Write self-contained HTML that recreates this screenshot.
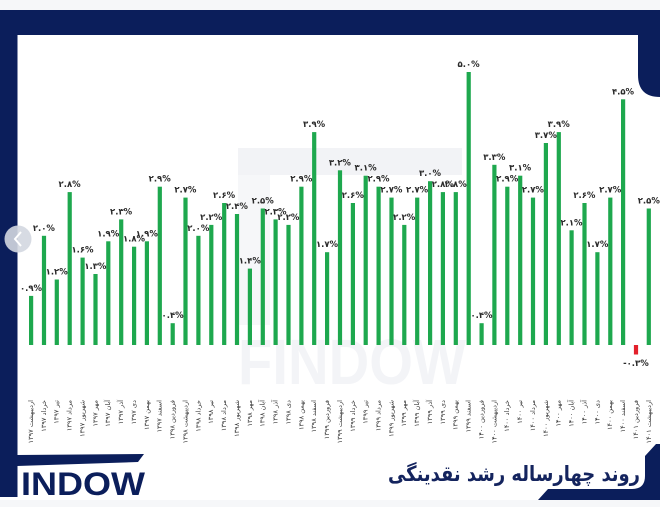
<!DOCTYPE html>
<html><head><meta charset="utf-8">
<style>
html,body{margin:0;padding:0;background:#fff;}
svg{display:block;}
.v{font-family:"DejaVu Sans","Liberation Sans",sans-serif;font-weight:bold;font-size:8.5px;fill:#2a2a2a;text-anchor:middle;}
.m{font-family:"DejaVu Sans","Liberation Sans",sans-serif;font-size:6.6px;fill:#3a3a3a;text-anchor:end;}
</style></head>
<body>
<svg width="660" height="507" viewBox="0 0 660 507" xmlns="http://www.w3.org/2000/svg">
<rect x="0" y="0" width="660" height="507" fill="#ffffff"/>
<rect x="0" y="0" width="660" height="10" fill="#f6f7f9"/>
<rect x="0" y="500" width="660" height="7" fill="#f6f7f9"/>

<!-- watermark -->
<rect x="238" y="148" width="224" height="27" fill="#f2f3f6"/>
<rect x="238" y="175" width="32" height="150" fill="#f6f7f9"/>
<text x="238" y="384" font-family="Liberation Sans, sans-serif" font-weight="bold" font-size="64" fill="#f3f4f7" textLength="228" lengthAdjust="spacingAndGlyphs">FINDOW</text>

<!-- navy frame -->
<rect x="0" y="10" width="660" height="25" fill="#0b1e5b"/>
<path d="M638,35 L660,35 L660,97 Q638,97 638,75 Z" fill="#0b1e5b"/>
<rect x="0" y="10" width="17.5" height="487" fill="#0b1e5b"/>
<polygon points="17,455 144,454 138,462 17,466" fill="#0b1e5b"/>
<text x="21" y="495" font-family="Liberation Sans, sans-serif" font-weight="bold" font-size="32" fill="#0b1e5b" textLength="124" lengthAdjust="spacingAndGlyphs">INDOW</text>
<path d="M656,444 L660,444 L660,500 L538,500 L548,489 L632,489 Q645,489 645,476 L645,456 Z" fill="#0b1e5b"/>
<text x="388" y="481" font-family="DejaVu Sans, sans-serif" font-weight="bold" font-size="21" fill="#14245e" textLength="252" lengthAdjust="spacingAndGlyphs">روند چهارساله رشد نقدینگی</text>

<!-- nav circle -->
<circle cx="18" cy="239" r="13.5" fill="#d3d7e0" fill-opacity="0.9"/>
<polyline points="21,232 15,239 21,246" fill="none" stroke="#ffffff" stroke-width="2"/>

<!-- bars -->
<g fill="#1ea84e">
<rect x="29.0" y="295.9" width="4.2" height="49.1"/>
<rect x="41.9" y="235.8" width="4.2" height="109.2"/>
<rect x="54.7" y="279.5" width="4.2" height="65.5"/>
<rect x="67.6" y="192.1" width="4.2" height="152.9"/>
<rect x="80.5" y="257.6" width="4.2" height="87.4"/>
<rect x="93.4" y="274.0" width="4.2" height="71.0"/>
<rect x="106.2" y="241.3" width="4.2" height="103.7"/>
<rect x="119.1" y="219.4" width="4.2" height="125.6"/>
<rect x="132.0" y="246.7" width="4.2" height="98.3"/>
<rect x="144.8" y="241.3" width="4.2" height="103.7"/>
<rect x="157.7" y="186.7" width="4.2" height="158.3"/>
<rect x="170.6" y="323.2" width="4.2" height="21.8"/>
<rect x="183.4" y="197.6" width="4.2" height="147.4"/>
<rect x="196.3" y="235.8" width="4.2" height="109.2"/>
<rect x="209.2" y="224.9" width="4.2" height="120.1"/>
<rect x="222.1" y="203.0" width="4.2" height="142.0"/>
<rect x="234.9" y="214.0" width="4.2" height="131.0"/>
<rect x="247.8" y="268.6" width="4.2" height="76.4"/>
<rect x="260.7" y="208.5" width="4.2" height="136.5"/>
<rect x="273.5" y="219.4" width="4.2" height="125.6"/>
<rect x="286.4" y="224.9" width="4.2" height="120.1"/>
<rect x="299.3" y="186.7" width="4.2" height="158.3"/>
<rect x="312.1" y="132.1" width="4.2" height="212.9"/>
<rect x="325.0" y="252.2" width="4.2" height="92.8"/>
<rect x="337.9" y="170.3" width="4.2" height="174.7"/>
<rect x="350.8" y="203.0" width="4.2" height="142.0"/>
<rect x="363.6" y="175.7" width="4.2" height="169.3"/>
<rect x="376.5" y="186.7" width="4.2" height="158.3"/>
<rect x="389.4" y="197.6" width="4.2" height="147.4"/>
<rect x="402.2" y="224.9" width="4.2" height="120.1"/>
<rect x="415.1" y="197.6" width="4.2" height="147.4"/>
<rect x="428.0" y="181.2" width="4.2" height="163.8"/>
<rect x="440.8" y="192.1" width="4.2" height="152.9"/>
<rect x="453.7" y="192.1" width="4.2" height="152.9"/>
<rect x="466.6" y="72.0" width="4.2" height="273.0"/>
<rect x="479.5" y="323.2" width="4.2" height="21.8"/>
<rect x="492.3" y="164.8" width="4.2" height="180.2"/>
<rect x="505.2" y="186.7" width="4.2" height="158.3"/>
<rect x="518.1" y="175.7" width="4.2" height="169.3"/>
<rect x="530.9" y="197.6" width="4.2" height="147.4"/>
<rect x="543.8" y="143.0" width="4.2" height="202.0"/>
<rect x="556.7" y="132.1" width="4.2" height="212.9"/>
<rect x="569.5" y="230.3" width="4.2" height="114.7"/>
<rect x="582.4" y="203.0" width="4.2" height="142.0"/>
<rect x="595.3" y="252.2" width="4.2" height="92.8"/>
<rect x="608.2" y="197.6" width="4.2" height="147.4"/>
<rect x="621.0" y="99.3" width="4.2" height="245.7"/>
<rect x="646.7" y="208.5" width="4.2" height="136.5"/>
</g>
<rect x="633.9" y="345" width="4.2" height="9.5" fill="#e3202b"/>

<!-- value labels -->
<text class="v" x="31.0" y="290.9">۰.۹%</text>
<text class="v" x="43.9" y="230.8">۲.۰%</text>
<text class="v" x="56.7" y="274.5">۱.۲%</text>
<text class="v" x="69.6" y="187.1">۲.۸%</text>
<text class="v" x="82.5" y="252.6">۱.۶%</text>
<text class="v" x="95.4" y="269.0">۱.۳%</text>
<text class="v" x="108.2" y="236.3">۱.۹%</text>
<text class="v" x="121.1" y="214.4">۲.۳%</text>
<text class="v" x="134.0" y="241.7">۱.۸%</text>
<text class="v" x="146.8" y="236.3">۱.۹%</text>
<text class="v" x="159.7" y="181.7">۲.۹%</text>
<text class="v" x="172.6" y="318.2">۰.۴%</text>
<text class="v" x="185.4" y="192.6">۲.۷%</text>
<text class="v" x="198.3" y="230.8">۲.۰%</text>
<text class="v" x="211.2" y="219.9">۲.۲%</text>
<text class="v" x="224.1" y="198.0">۲.۶%</text>
<text class="v" x="236.9" y="209.0">۲.۴%</text>
<text class="v" x="249.8" y="263.6">۱.۴%</text>
<text class="v" x="262.7" y="203.5">۲.۵%</text>
<text class="v" x="275.5" y="214.4">۲.۳%</text>
<text class="v" x="288.4" y="219.9">۲.۲%</text>
<text class="v" x="301.3" y="181.7">۲.۹%</text>
<text class="v" x="314.1" y="127.1">۳.۹%</text>
<text class="v" x="327.0" y="247.2">۱.۷%</text>
<text class="v" x="339.9" y="165.3">۳.۲%</text>
<text class="v" x="352.8" y="198.0">۲.۶%</text>
<text class="v" x="365.6" y="170.7">۳.۱%</text>
<text class="v" x="378.5" y="181.7">۲.۹%</text>
<text class="v" x="391.4" y="192.6">۲.۷%</text>
<text class="v" x="404.2" y="219.9">۲.۲%</text>
<text class="v" x="417.1" y="192.6">۲.۷%</text>
<text class="v" x="430.0" y="176.2">۳.۰%</text>
<text class="v" x="442.8" y="187.1">۲.۸%</text>
<text class="v" x="455.7" y="187.1">۲.۸%</text>
<text class="v" x="468.6" y="67.0">۵.۰%</text>
<text class="v" x="481.5" y="318.2">۰.۴%</text>
<text class="v" x="494.3" y="159.8">۳.۳%</text>
<text class="v" x="507.2" y="181.7">۲.۹%</text>
<text class="v" x="520.1" y="170.7">۳.۱%</text>
<text class="v" x="532.9" y="192.6">۲.۷%</text>
<text class="v" x="545.8" y="138.0">۳.۷%</text>
<text class="v" x="558.7" y="127.1">۳.۹%</text>
<text class="v" x="571.5" y="225.3">۲.۱%</text>
<text class="v" x="584.4" y="198.0">۲.۶%</text>
<text class="v" x="597.3" y="247.2">۱.۷%</text>
<text class="v" x="610.2" y="192.6">۲.۷%</text>
<text class="v" x="623.0" y="94.3">۴.۵%</text>
<text class="v" x="635.9" y="366">-۰.۳%</text>
<text class="v" x="648.8" y="203.5">۲.۵%</text>

<!-- month labels -->
<text class="m" transform="translate(33.0,400) rotate(-90)">اردیبهشت ۱۳۹۷</text>
<text class="m" transform="translate(45.9,400) rotate(-90)">خرداد ۱۳۹۷</text>
<text class="m" transform="translate(58.7,400) rotate(-90)">تیر ۱۳۹۷</text>
<text class="m" transform="translate(71.6,400) rotate(-90)">مرداد ۱۳۹۷</text>
<text class="m" transform="translate(84.5,400) rotate(-90)">شهریور ۱۳۹۷</text>
<text class="m" transform="translate(97.4,400) rotate(-90)">مهر ۱۳۹۷</text>
<text class="m" transform="translate(110.2,400) rotate(-90)">آبان ۱۳۹۷</text>
<text class="m" transform="translate(123.1,400) rotate(-90)">آذر ۱۳۹۷</text>
<text class="m" transform="translate(136.0,400) rotate(-90)">دی ۱۳۹۷</text>
<text class="m" transform="translate(148.8,400) rotate(-90)">بهمن ۱۳۹۷</text>
<text class="m" transform="translate(161.7,400) rotate(-90)">اسفند ۱۳۹۷</text>
<text class="m" transform="translate(174.6,400) rotate(-90)">فروردین ۱۳۹۸</text>
<text class="m" transform="translate(187.4,400) rotate(-90)">اردیبهشت ۱۳۹۸</text>
<text class="m" transform="translate(200.3,400) rotate(-90)">خرداد ۱۳۹۸</text>
<text class="m" transform="translate(213.2,400) rotate(-90)">تیر ۱۳۹۸</text>
<text class="m" transform="translate(226.1,400) rotate(-90)">مرداد ۱۳۹۸</text>
<text class="m" transform="translate(238.9,400) rotate(-90)">شهریور ۱۳۹۸</text>
<text class="m" transform="translate(251.8,400) rotate(-90)">مهر ۱۳۹۸</text>
<text class="m" transform="translate(264.7,400) rotate(-90)">آبان ۱۳۹۸</text>
<text class="m" transform="translate(277.5,400) rotate(-90)">آذر ۱۳۹۸</text>
<text class="m" transform="translate(290.4,400) rotate(-90)">دی ۱۳۹۸</text>
<text class="m" transform="translate(303.3,400) rotate(-90)">بهمن ۱۳۹۸</text>
<text class="m" transform="translate(316.1,400) rotate(-90)">اسفند ۱۳۹۸</text>
<text class="m" transform="translate(329.0,400) rotate(-90)">فروردین ۱۳۹۹</text>
<text class="m" transform="translate(341.9,400) rotate(-90)">اردیبهشت ۱۳۹۹</text>
<text class="m" transform="translate(354.8,400) rotate(-90)">خرداد ۱۳۹۹</text>
<text class="m" transform="translate(367.6,400) rotate(-90)">تیر ۱۳۹۹</text>
<text class="m" transform="translate(380.5,400) rotate(-90)">مرداد ۱۳۹۹</text>
<text class="m" transform="translate(393.4,400) rotate(-90)">شهریور ۱۳۹۹</text>
<text class="m" transform="translate(406.2,400) rotate(-90)">مهر ۱۳۹۹</text>
<text class="m" transform="translate(419.1,400) rotate(-90)">آبان ۱۳۹۹</text>
<text class="m" transform="translate(432.0,400) rotate(-90)">آذر ۱۳۹۹</text>
<text class="m" transform="translate(444.8,400) rotate(-90)">دی ۱۳۹۹</text>
<text class="m" transform="translate(457.7,400) rotate(-90)">بهمن ۱۳۹۹</text>
<text class="m" transform="translate(470.6,400) rotate(-90)">اسفند ۱۳۹۹</text>
<text class="m" transform="translate(483.5,400) rotate(-90)">فروردین ۱۴۰۰</text>
<text class="m" transform="translate(496.3,400) rotate(-90)">اردیبهشت ۱۴۰۰</text>
<text class="m" transform="translate(509.2,400) rotate(-90)">خرداد ۱۴۰۰</text>
<text class="m" transform="translate(522.1,400) rotate(-90)">تیر ۱۴۰۰</text>
<text class="m" transform="translate(534.9,400) rotate(-90)">مرداد ۱۴۰۰</text>
<text class="m" transform="translate(547.8,400) rotate(-90)">شهریور ۱۴۰۰</text>
<text class="m" transform="translate(560.7,400) rotate(-90)">مهر ۱۴۰۰</text>
<text class="m" transform="translate(573.5,400) rotate(-90)">آبان ۱۴۰۰</text>
<text class="m" transform="translate(586.4,400) rotate(-90)">آذر ۱۴۰۰</text>
<text class="m" transform="translate(599.3,400) rotate(-90)">دی ۱۴۰۰</text>
<text class="m" transform="translate(612.2,400) rotate(-90)">بهمن ۱۴۰۰</text>
<text class="m" transform="translate(625.0,400) rotate(-90)">اسفند ۱۴۰۰</text>
<text class="m" transform="translate(637.9,400) rotate(-90)">فروردین ۱۴۰۱</text>
<text class="m" transform="translate(650.8,400) rotate(-90)">اردیبهشت ۱۴۰۱</text>
</svg>
</body></html>
